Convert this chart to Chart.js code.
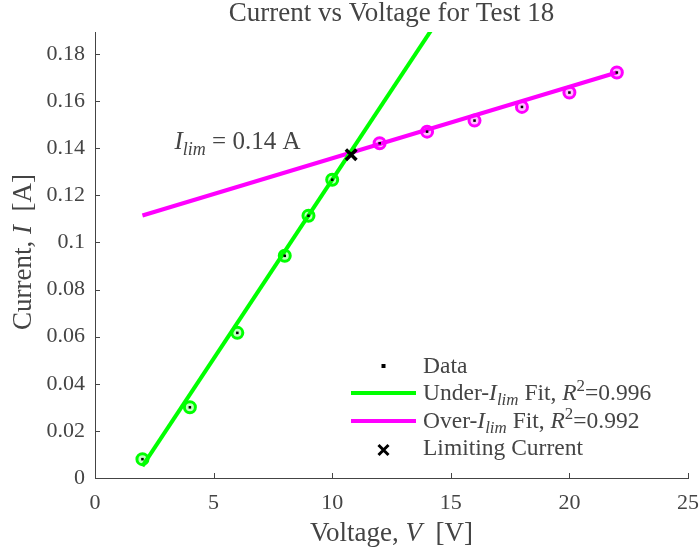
<!DOCTYPE html>
<html>
<head>
<meta charset="utf-8">
<script src="https://cdn.jsdelivr.net/npm/chart.js@4"></script>
<style>
  html, body { margin: 0; padding: 0; background: #fff; }
  #wrap { width: 700px; height: 550px; }
</style>
</head>
<body>
<div id="wrap"><canvas id="chart" width="700" height="550"></canvas></div>
<script>
// measured data, split at the limiting current
const underV = [2, 4, 6, 8, 9, 10];
const underI = [0.0080, 0.0300, 0.0616, 0.0943, 0.1113, 0.1266];
const overV = [12, 14, 16, 18, 20, 22];
const overI = [0.1421, 0.1470, 0.1517, 0.1575, 0.1636, 0.1721];

// fit line endpoints
const underFitV = [2, 22];
const underFitI = [0.0050, 0.3090];
const overFitV = [2, 22];
const overFitI = [0.1114, 0.1721];

// limiting current point
const limV = [10.8];
const limI = [0.1372];

const xTicks = [0, 5, 10, 15, 20, 25];
const xTickLabels = ["0", "5", "10", "15", "20", "25"];
const yTicks = [0, 0.02, 0.04, 0.06, 0.08, 0.1, 0.12, 0.14, 0.16, 0.18];
const yTickLabels = ["0", "0.02", "0.04", "0.06", "0.08", "0.1", "0.12", "0.14", "0.16", "0.18"];

const FONT = '"Liberation Serif", "Times New Roman", serif';
const TXT = "#444";
const GREEN = "#00ff00";
const MAGENTA = "#ff00ff";

function pts(xs, ys) {
    return xs.map((x, i) => ({ x: x, y: ys[i] }));
}

// draw text made of segments: {t, it, sub, sup}
function segFont(s, size) {
    const sz = (s.sub || s.sup) ? size * 0.72 : size;
    return (s.it ? "italic " : "") + sz + "px " + FONT;
}
function richWidth(ctx, segs, size) {
    let w = 0;
    segs.forEach(s => { ctx.font = segFont(s, size); w += ctx.measureText(s.t).width; });
    return w;
}
function drawRich(ctx, segs, x, y, size, align) {
    const w = richWidth(ctx, segs, size);
    let cx = align === "center" ? x - w / 2 : (align === "right" ? x - w : x);
    ctx.textAlign = "left";
    ctx.textBaseline = "alphabetic";
    segs.forEach(s => {
        ctx.font = segFont(s, size);
        let dy = 0;
        if (s.sub) dy = size * 0.22;
        if (s.sup) dy = -size * 0.38;
        ctx.fillText(s.t, cx, y + dy);
        cx += ctx.measureText(s.t).width;
    });
}

const titleSegs = [{ t: "Current vs Voltage for Test 18" }];
const xLabelSegs = [{ t: "Voltage, " }, { t: "V", it: true }, { t: "  [V]" }];
const yLabelSegs = [{ t: "Current, " }, { t: "I", it: true }, { t: "  [A]" }];
const noteSegs = [{ t: "I", it: true }, { t: "lim", it: true, sub: true }, { t: " = 0.14 A" }];

const legendItems = [
    { kind: "data", segs: [{ t: "Data" }] },
    { kind: "line", color: GREEN, segs: [{ t: "Under-" }, { t: "I", it: true }, { t: "lim", it: true, sub: true }, { t: " Fit, " }, { t: "R", it: true }, { t: "2", sup: true }, { t: "=0.996" }] },
    { kind: "line", color: MAGENTA, segs: [{ t: "Over-" }, { t: "I", it: true }, { t: "lim", it: true, sub: true }, { t: " Fit, " }, { t: "R", it: true }, { t: "2", sup: true }, { t: "=0.992" }] },
    { kind: "cross", segs: [{ t: "Limiting Current" }] }
];

const decor = {
    id: "decor",
    afterDraw(chart) {
        const ctx = chart.ctx;
        const a = chart.chartArea;
        const xs = chart.scales.x, ys = chart.scales.y;
        ctx.save();

        // inward ticks
        ctx.strokeStyle = "#444";
        ctx.lineWidth = 1;
        ctx.beginPath();
        xTicks.forEach(v => {
            const px = Math.round(xs.getPixelForValue(v)) + 0.5;
            ctx.moveTo(px, a.bottom);
            ctx.lineTo(px, a.bottom - 5);
        });
        yTicks.forEach(v => {
            const py = Math.round(ys.getPixelForValue(v)) + 0.5;
            ctx.moveTo(a.left, py);
            ctx.lineTo(a.left + 5, py);
        });
        ctx.stroke();

        // x tick labels
        ctx.fillStyle = TXT;
        ctx.font = "22px " + FONT;
        ctx.textAlign = "center";
        ctx.textBaseline = "alphabetic";
        xTicks.forEach((v, i) => {
            ctx.fillText(xTickLabels[i], xs.getPixelForValue(v), a.bottom + 31);
        });

        const cx = (a.left + a.right) / 2;
        drawRich(ctx, titleSegs, cx, 21, 27, "center");
        drawRich(ctx, xLabelSegs, cx, 541, 27, "center");

        ctx.save();
        ctx.translate(31, (a.top + a.bottom) / 2 - 3);
        ctx.rotate(-Math.PI / 2);
        drawRich(ctx, yLabelSegs, 0, 0, 27, "center");
        ctx.restore();

        // annotation
        drawRich(ctx, noteSegs, xs.getPixelForValue(3.35), ys.getPixelForValue(0.143) + 8, 25, "left");

        // legend
        const lx0 = a.right - 337, lx1 = a.right - 272, tx = a.right - 265;
        const rows = [a.bottom - 113, a.bottom - 86, a.bottom - 58, a.bottom - 31];
        legendItems.forEach((it, i) => {
            const y = rows[i];
            const mx = (lx0 + lx1) / 2;
            if (it.kind === "line") {
                ctx.strokeStyle = it.color;
                ctx.lineWidth = 4;
                ctx.beginPath();
                ctx.moveTo(lx0, y + 1);
                ctx.lineTo(lx1, y + 1);
                ctx.stroke();
            } else if (it.kind === "data") {
                ctx.fillStyle = "#000";
                ctx.fillRect(mx - 2, y - 1, 4, 4);
            } else {
                ctx.strokeStyle = "#000";
                ctx.lineWidth = 3;
                ctx.beginPath();
                ctx.moveTo(mx - 5, y - 2); ctx.lineTo(mx + 5, y + 8);
                ctx.moveTo(mx + 5, y - 2); ctx.lineTo(mx - 5, y + 8);
                ctx.stroke();
            }
            ctx.fillStyle = TXT;
            drawRich(ctx, it.segs, tx, y + 8, 23.5, "left");
        });
        ctx.restore();
    }
};

new Chart(document.getElementById("chart"), {
    type: "scatter",
    data: {
        datasets: [
            {
                label: "Limiting Current", data: pts(limV, limI), order: 0,
                pointStyle: "crossRot", pointRadius: 7.5, borderColor: "#000", borderWidth: 3.5
            },
            {
                label: "Data", data: pts(underV.concat(overV), underI.concat(overI)), order: 1,
                pointStyle: "rect", pointRadius: 1.8, backgroundColor: "#000", borderColor: "#000", borderWidth: 0
            },
            {
                label: "under pts", data: pts(underV, underI), order: 2,
                pointRadius: 5.5, borderColor: GREEN, backgroundColor: "rgba(0,255,0,0.25)", borderWidth: 3
            },
            {
                label: "over pts", data: pts(overV, overI), order: 2,
                pointRadius: 5.5, borderColor: MAGENTA, backgroundColor: "rgba(255,0,255,0.25)", borderWidth: 3
            },
            {
                label: "Under fit", data: pts(underFitV, underFitI), order: 3,
                showLine: true, pointRadius: 0, borderColor: GREEN, borderWidth: 4
            },
            {
                label: "Over fit", data: pts(overFitV, overFitI), order: 3,
                showLine: true, pointRadius: 0, borderColor: MAGENTA, borderWidth: 4
            }
        ]
    },
    options: {
        responsive: false,
        animation: false,
        layout: { padding: { left: 0, right: 12, top: 32, bottom: 0 } },
        plugins: { legend: { display: false }, tooltip: { enabled: false }, title: { display: false } },
        scales: {
            x: {
                type: "linear", min: 0, max: 25,
                afterFit: s => { s.height = 72; },
                afterBuildTicks: s => { s.ticks = xTicks.map(v => ({ value: v })); },
                grid: { display: false, drawTicks: false },
                border: { display: true, color: "#444", width: 1 },
                ticks: { display: false }
            },
            y: {
                type: "linear", min: 0, max: 0.1893,
                afterFit: s => { s.width = 95; },
                afterBuildTicks: s => { s.ticks = yTicks.map(v => ({ value: v })); },
                grid: { display: false, drawTicks: false },
                border: { display: true, color: "#444", width: 1 },
                ticks: { padding: 10, color: TXT, font: { family: FONT, size: 22 }, callback: (v, i) => yTickLabels[i] }
            }
        }
    },
    plugins: [decor]
});
</script>
</body>
</html>
